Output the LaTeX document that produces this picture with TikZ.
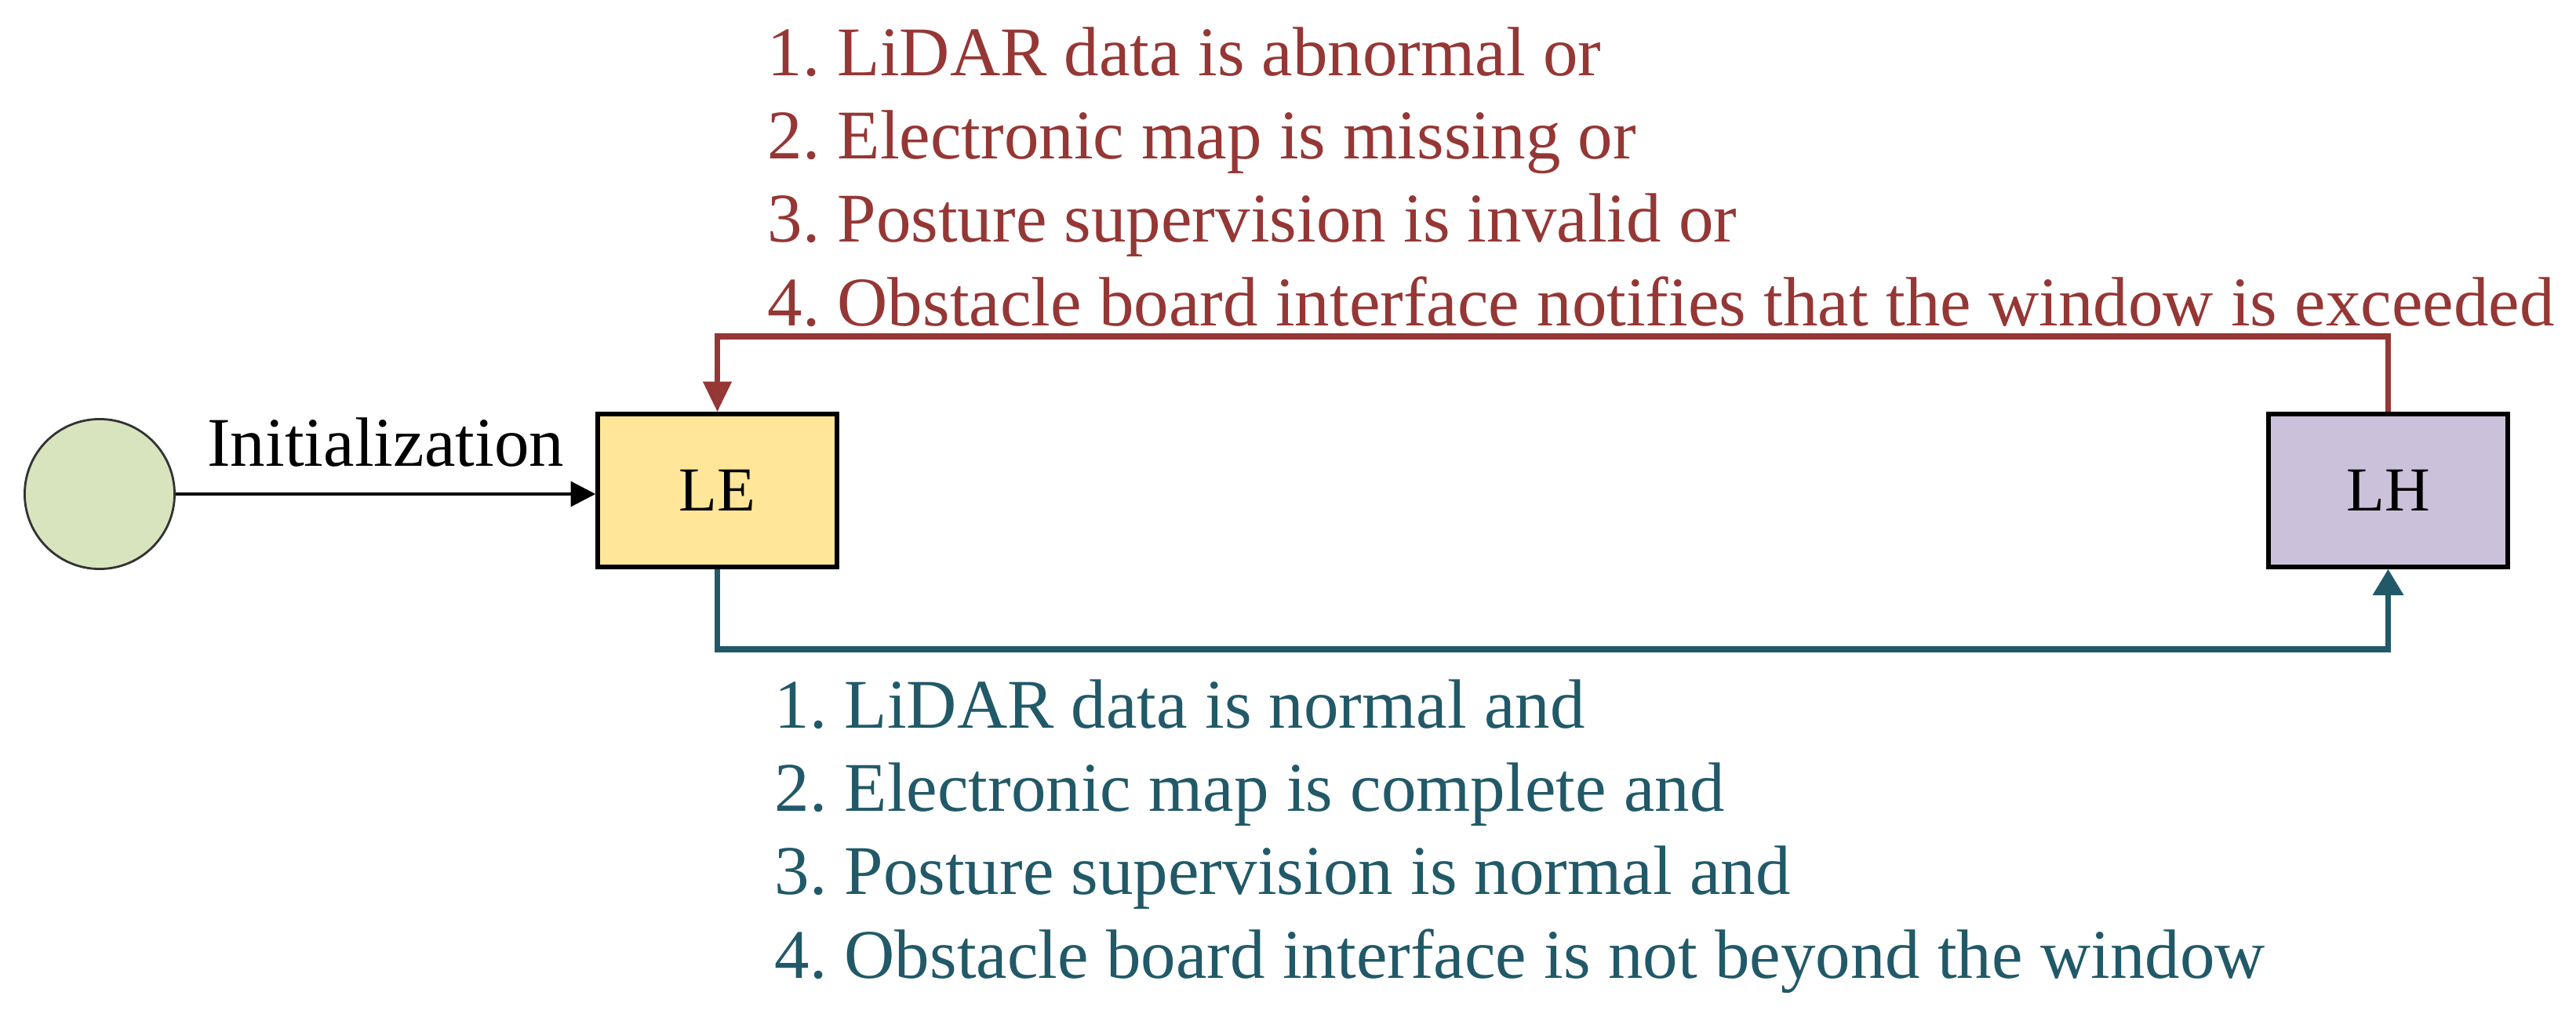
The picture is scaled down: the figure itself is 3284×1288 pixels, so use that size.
\documentclass[tikz,border=0pt]{standalone}
\usepackage{fontspec}
\setmainfont{Liberation Serif}
\usetikzlibrary{arrows.meta}
\definecolor{faultred}{HTML}{953735}
\definecolor{okteal}{HTML}{215968}
\definecolor{lefill}{HTML}{FFE699}
\definecolor{lhfill}{HTML}{CCC1DA}
\definecolor{startfill}{HTML}{D7E4BD}
\tikzset{
	statebox/.style={draw=black, line width=1.5pt, minimum width=3.05cm, minimum height=1.95cm, inner sep=0pt, font=\fontsize{22.7}{27}\selectfont},
	condtext/.style={align=left, inner sep=0pt, anchor=north west, font=\fontsize{25.3}{30.2}\selectfont},
	faultline/.style={draw=faultred, line width=2pt, -{Triangle[length=11pt,width=10pt]}},
	okline/.style={draw=okteal, line width=2pt, -{Triangle[length=9.5pt,width=10.8pt]}},
}

\begin{document}
\frenchspacing
\begin{tikzpicture}[x=0.01cm, y=-0.01cm]
		%%%%% START %%%%%
		\useasboundingbox (0,0) rectangle (3284,1288);
		
		\node[circle, draw=black!80, line width=0.8pt, fill=startfill, minimum size=1.91cm, inner sep=0pt] (start) at (127,630) {};
		\node[statebox, fill=lefill] (LE) at (914.5,625.5) {LE};
		\node[statebox, fill=lhfill] (LH) at (3044.5,625.5) {LH};
		
		\draw[line width=1.2pt, -{Triangle[length=9pt,width=9pt]}] (start.east) -- (start.east -| LE.west)
			node[midway, above=0.33cm, inner sep=0pt, font=\fontsize{25.3}{30.2}\selectfont] (initlabel) {Initialization};
		
		% LH back to LE
		\coordinate (faultrail) at (0,429);
		\draw[faultline] (LH.north) -- (LH.north |- faultrail) -| (LE.north);
		\node[condtext, text=faultred] (faultcond) at (978,34) {1. LiDAR data is abnormal or\\2. Electronic map is missing or\\3. Posture supervision is invalid or\\4. Obstacle board interface notifies that the window is exceeded};
		
		% LE on to LH
		\coordinate (okrail) at (0,828);
		\draw[okline] (LE.south) -- (LE.south |- okrail) -| (LH.south);
		\node[condtext, text=okteal] (okcond) at (987,866) {1. LiDAR data is normal and\\2. Electronic map is complete and\\3. Posture supervision is normal and\\4. Obstacle board interface is not beyond the window};
		
		%%%%% END %%%%%
\end{tikzpicture}
\end{document}
